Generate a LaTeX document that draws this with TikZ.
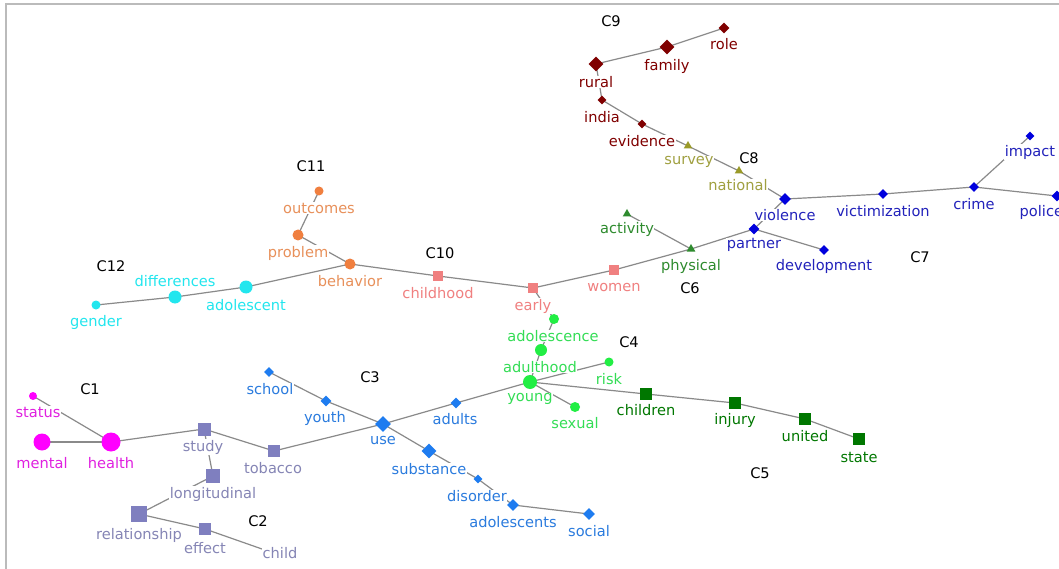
\documentclass[tikz,border=0pt]{standalone}
\usepackage{fontspec}
\setmainfont{DejaVu Sans}
\usetikzlibrary{shapes.geometric}
\definecolor{cA}{HTML}{FF00FF}
\definecolor{cAt}{HTML}{E020E0}
\definecolor{cB}{HTML}{7F7FBF}
\definecolor{cBt}{HTML}{8585B5}
\definecolor{cC}{HTML}{1E7CF0}
\definecolor{cCt}{HTML}{2A7BDE}
\definecolor{cD}{HTML}{22EE44}
\definecolor{cDt}{HTML}{33DD55}
\definecolor{cE}{HTML}{007700}
\definecolor{cF}{HTML}{2E8B2E}
\definecolor{cG}{HTML}{0000DD}
\definecolor{cGt}{HTML}{2222BB}
\definecolor{cH}{HTML}{9A9A28}
\definecolor{cHt}{HTML}{A0A040}
\definecolor{cI}{HTML}{800000}
\definecolor{cJ}{HTML}{F08080}
\definecolor{cK}{HTML}{F07F3F}
\definecolor{cKt}{HTML}{E8905A}
\definecolor{cL}{HTML}{22E6EE}
\definecolor{edgec}{HTML}{8A8A8A}
\definecolor{framec}{HTML}{BBBBBB}
\tikzset{
  lab/.style={fill=white,inner sep=0.5pt,font=\fontsize{14.6}{16}\selectfont},
  clab/.style={font=\fontsize{14.6}{16}\selectfont,text=black},
  dot/.style={circle,inner sep=0pt,minimum size=#1},
  sq/.style={rectangle,inner sep=0pt,minimum size=#1},
  dia/.style={diamond,aspect=1,inner sep=0pt,minimum size=#1},
  tri/.style={regular polygon,regular polygon sides=3,inner sep=0pt,minimum size=#1},
  link/.style={draw=edgec,line width=1.2pt}
}
\begin{document}
\begin{tikzpicture}[x=1pt,y=-1pt]
\useasboundingbox (0,0) rectangle (1059,569);
\fill[white] (0,0) rectangle (1059,569);
\draw[framec,line width=1.5pt] (6,569) -- (6,4) -- (1059,4);
% ---------- marker coordinates ----------
\coordinate (status) at (33,396);
\coordinate (mental) at (42,442);
\coordinate (health) at (111,442);
\coordinate (study) at (204,429);
\coordinate (tobacco) at (274,451);
\coordinate (longitudinal) at (213,476);
\coordinate (relationship) at (139,514);
\coordinate (effect) at (205,529);
\coordinate (child) at (262,549);
\coordinate (school) at (269,372);
\coordinate (youth) at (326,401);
\coordinate (use) at (383,424);
\coordinate (adults) at (456,403);
\coordinate (substance) at (429,451);
\coordinate (disorder) at (478,479);
\coordinate (adolescents) at (513,505);
\coordinate (social) at (589,514);
\coordinate (adolescence) at (554,319);
\coordinate (adulthood) at (541,350);
\coordinate (young) at (530,382);
\coordinate (risk) at (609,362);
\coordinate (sexual) at (575,407);
\coordinate (children) at (646,394);
\coordinate (injury) at (735,403);
\coordinate (united) at (805,419);
\coordinate (state) at (859,439);
\coordinate (activity) at (627,214);
\coordinate (physical) at (691,249);
\coordinate (violence) at (785,199);
\coordinate (partner) at (754,229);
\coordinate (development) at (824,250);
\coordinate (victimization) at (883,194);
\coordinate (crime) at (974,187);
\coordinate (impact) at (1030,136);
\coordinate (police) at (1057,196);
\coordinate (survey) at (688,146);
\coordinate (national) at (739,171);
\coordinate (role) at (724,28);
\coordinate (family) at (667,47);
\coordinate (rural) at (596,64);
\coordinate (india) at (602,100);
\coordinate (evidence) at (642,124);
\coordinate (childhood) at (438,276);
\coordinate (early) at (533,288);
\coordinate (women) at (614,270);
\coordinate (outcomes) at (319,191);
\coordinate (problem) at (298,235);
\coordinate (behavior) at (350,264);
\coordinate (gender) at (96,305);
\coordinate (differences) at (175,297);
\coordinate (adolescent) at (246,287);
% ---------- edges ----------
\draw[link] (status) -- (health);
\draw[link] (mental) -- (health);
\draw[link] (health) -- (study);
\draw[link] (study) -- (tobacco);
\draw[link] (study) -- (longitudinal);
\draw[link] (longitudinal) -- (relationship);
\draw[link] (relationship) -- (effect);
\draw[link] (effect) -- (child);
\draw[link] (tobacco) -- (use);
\draw[link] (school) -- (youth);
\draw[link] (youth) -- (use);
\draw[link] (use) -- (adults);
\draw[link] (adults) -- (young);
\draw[link] (use) -- (substance);
\draw[link] (substance) -- (disorder);
\draw[link] (disorder) -- (adolescents);
\draw[link] (adolescents) -- (social);
\draw[link] (early) -- (adolescence);
\draw[link] (adolescence) -- (adulthood);
\draw[link] (adulthood) -- (young);
\draw[link] (young) -- (risk);
\draw[link] (young) -- (sexual);
\draw[link] (young) -- (children);
\draw[link] (children) -- (injury);
\draw[link] (injury) -- (united);
\draw[link] (united) -- (state);
\draw[link] (activity) -- (physical);
\draw[link] (women) -- (physical);
\draw[link] (physical) -- (partner);
\draw[link] (partner) -- (violence);
\draw[link] (partner) -- (development);
\draw[link] (violence) -- (victimization);
\draw[link] (victimization) -- (crime);
\draw[link] (crime) -- (impact);
\draw[link] (crime) -- (police);
\draw[link] (national) -- (violence);
\draw[link] (survey) -- (national);
\draw[link] (evidence) -- (survey);
\draw[link] (india) -- (evidence);
\draw[link] (rural) -- (india);
\draw[link] (rural) -- (family);
\draw[link] (family) -- (role);
\draw[link] (behavior) -- (childhood);
\draw[link] (childhood) -- (early);
\draw[link] (early) -- (women);
\draw[link] (outcomes) -- (problem);
\draw[link] (problem) -- (behavior);
\draw[link] (adolescent) -- (behavior);
\draw[link] (differences) -- (adolescent);
\draw[link] (gender) -- (differences);
% ---------- labels ----------
\node[lab,text=cAt] (tstatus) at (38,412) {status};
\node[lab,text=cAt] (tmental) at (42,463) {mental};
\node[lab,text=cAt] (thealth) at (111,463) {health};
\node[lab,text=cBt] (tstudy) at (203,447) {study};
\node[lab,text=cBt] (ttobacco) at (273,468) {tobacco};
\node[lab,text=cBt] (tlongitudinal) at (213,494) {longitudinal};
\node[lab,text=cBt] (trelationship) at (139,535) {relationship};
\node[lab,text=cBt] (teffect) at (205,548) {effect};
\node[lab,text=cBt] (tchild) at (280,553) {child};
\node[lab,text=cCt] (tschool) at (270,389) {school};
\node[lab,text=cCt] (tyouth) at (325,418) {youth};
\node[lab,text=cCt] (tuse) at (383,441) {use};
\node[lab,text=cCt] (tadults) at (455,419) {adults};
\node[lab,text=cCt] (tsubstance) at (429,469) {substance};
\node[lab,text=cCt] (tdisorder) at (477,496) {disorder};
\node[lab,text=cCt] (tadolescents) at (513,522) {adolescents};
\node[lab,text=cCt] (tsocial) at (589,531) {social};
\node[lab,text=cDt] (tadolescence) at (553,336) {adolescence};
\node[lab,text=cDt] (tadulthood) at (540,367) {adulthood};
\node[lab,text=cDt] (tyoung) at (530,399) {young};
\node[lab,text=cDt] (trisk) at (609,379) {risk};
\node[lab,text=cDt] (tsexual) at (575,423) {sexual};
\node[lab,text=cE] (tchildren) at (646,410) {children};
\node[lab,text=cE] (tinjury) at (735,420) {injury};
\node[lab,text=cE] (tunited) at (805,436) {united};
\node[lab,text=cE] (tstate) at (859,457) {state};
\node[lab,text=cF] (tactivity) at (627,229) {activity};
\node[lab,text=cF] (tphysical) at (691,266) {physical};
\node[lab,text=cGt] (tviolence) at (785,215) {violence};
\node[lab,text=cGt] (tpartner) at (754,245) {partner};
\node[lab,text=cGt] (tdevelopment) at (824,266) {development};
\node[lab,text=cGt] (tvictimization) at (883,211) {victimization};
\node[lab,text=cGt] (tcrime) at (974,204) {crime};
\node[lab,text=cGt] (timpact) at (1030,152) {impact};
\node[lab,text=cGt,anchor=west] (tpolice) at (1019,212) {police};
\node[lab,text=cHt] (tsurvey) at (689,162) {survey};
\node[lab,text=cHt] (tnational) at (738,185) {national};
\node[lab,text=cI] (trole) at (724,44) {role};
\node[lab,text=cI] (tfamily) at (667,66) {family};
\node[lab,text=cI] (trural) at (596,82) {rural};
\node[lab,text=cI] (tindia) at (602,117) {india};
\node[lab,text=cI] (tevidence) at (642,141) {evidence};
\node[lab,text=cJ] (tchildhood) at (438,293) {childhood};
\node[lab,text=cJ] (tearly) at (533,306) {early};
\node[lab,text=cJ] (twomen) at (614,288) {women};
\node[lab,text=cKt] (toutcomes) at (319,208) {outcomes};
\node[lab,text=cKt] (tproblem) at (298,253) {problem};
\node[lab,text=cKt] (tbehavior) at (350,281) {behavior};
\node[lab,text=cL] (tgender) at (96,322) {gender};
\node[lab,text=cL] (tdifferences) at (175,281) {differences};
\node[lab,text=cL] (tadolescent) at (246,305) {adolescent};
% cluster names
\node[clab] (c1) at (90,389) {C1};
\node[clab] (c2) at (258,521) {C2};
\node[clab] (c3) at (370,377) {C3};
\node[clab] (c4) at (629,342) {C4};
\node[clab] (c5) at (760,473) {C5};
\node[clab] (c6) at (690,288) {C6};
\node[clab] (c7) at (920,257) {C7};
\node[clab] (c8) at (749,158) {C8};
\node[clab] (c9) at (611,21) {C9};
\node[clab] (c10) at (440,253) {C10};
\node[clab] (c11) at (311,166) {C11};
\node[clab] (c12) at (111,266) {C12};
% ---------- markers ----------
\node[dot=8,fill=cA] (mstatus) at (status) {};
\node[dot=17,fill=cA] (mmental) at (mental) {};
\node[dot=19,fill=cA] (mhealth) at (health) {};
\node[sq=13,fill=cB] (mstudy) at (study) {};
\node[sq=12,fill=cB] (mtobacco) at (tobacco) {};
\node[sq=14,fill=cB] (mlongitudinal) at (longitudinal) {};
\node[sq=16,fill=cB] (mrelationship) at (relationship) {};
\node[sq=12,fill=cB] (meffect) at (effect) {};
\node[dia=10,fill=cC] (mschool) at (school) {};
\node[dia=11,fill=cC] (myouth) at (youth) {};
\node[dia=16,fill=cC] (muse) at (use) {};
\node[dia=11,fill=cC] (madults) at (adults) {};
\node[dia=15,fill=cC] (msubstance) at (substance) {};
\node[dia=9,fill=cC] (mdisorder) at (disorder) {};
\node[dia=12,fill=cC] (madolescents) at (adolescents) {};
\node[dia=12,fill=cC] (msocial) at (social) {};
\node[dot=10,fill=cD] (madolescence) at (adolescence) {};
\node[dot=12,fill=cD] (madulthood) at (adulthood) {};
\node[dot=14,fill=cD] (myoung) at (young) {};
\node[dot=9,fill=cD] (mrisk) at (risk) {};
\node[dot=10,fill=cD] (msexual) at (sexual) {};
\node[sq=12,fill=cE] (mchildren) at (children) {};
\node[sq=12,fill=cE] (minjury) at (injury) {};
\node[sq=12,fill=cE] (munited) at (united) {};
\node[sq=12,fill=cE] (mstate) at (state) {};
\node[tri=10,fill=cF] (mactivity) at (activity) {};
\node[tri=10,fill=cF] (mphysical) at (physical) {};
\node[dia=12,fill=cG] (mviolence) at (violence) {};
\node[dia=11,fill=cG] (mpartner) at (partner) {};
\node[dia=10,fill=cG] (mdevelopment) at (development) {};
\node[dia=10,fill=cG] (mvictimization) at (victimization) {};
\node[dia=10,fill=cG] (mcrime) at (crime) {};
\node[dia=9,fill=cG] (mimpact) at (impact) {};
\node[dia=11,fill=cG] (mpolice) at (police) {};
\node[tri=10,fill=cH] (msurvey) at (survey) {};
\node[tri=10,fill=cH] (mnational) at (national) {};
\node[dia=11,fill=cI] (mrole) at (role) {};
\node[dia=15,fill=cI] (mfamily) at (family) {};
\node[dia=15,fill=cI] (mrural) at (rural) {};
\node[dia=9,fill=cI] (mindia) at (india) {};
\node[dia=9,fill=cI] (mevidence) at (evidence) {};
\node[sq=10,fill=cJ] (mchildhood) at (childhood) {};
\node[sq=10,fill=cJ] (mearly) at (early) {};
\node[sq=10,fill=cJ] (mwomen) at (women) {};
\node[dot=9,fill=cK] (moutcomes) at (outcomes) {};
\node[dot=11,fill=cK] (mproblem) at (problem) {};
\node[dot=11,fill=cK] (mbehavior) at (behavior) {};
\node[dot=9,fill=cL] (mgender) at (gender) {};
\node[dot=13,fill=cL] (mdifferences) at (differences) {};
\node[dot=13,fill=cL] (madolescent) at (adolescent) {};
\end{tikzpicture}
\end{document}
